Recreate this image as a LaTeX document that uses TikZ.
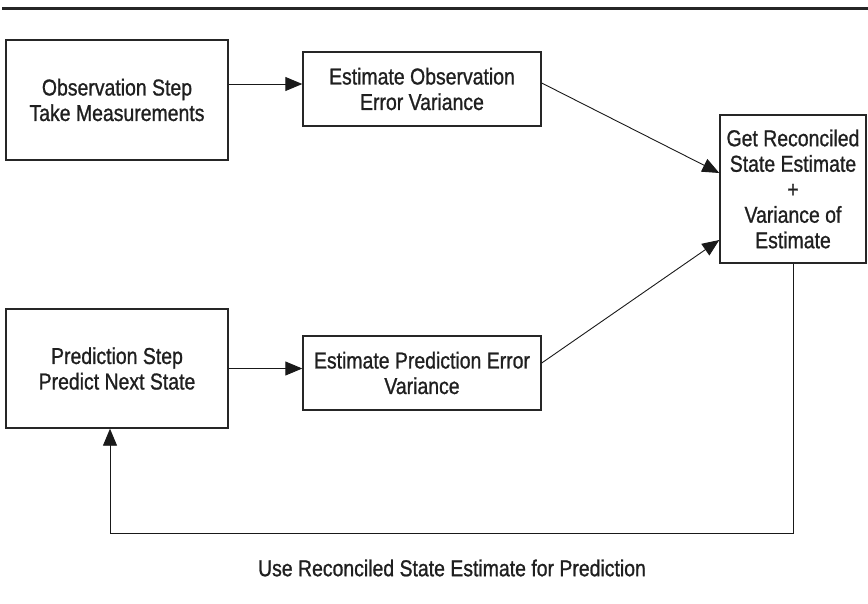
\documentclass[tikz,border=0pt]{standalone}
\usepackage{fontspec}
\setmainfont[FakeStretch=0.845,FakeBold=1.0]{Liberation Sans}
\usetikzlibrary{arrows.meta}
\begin{document}
\begin{tikzpicture}[x=1pt,y=-1pt,
  box/.style={draw=black!85, line width=1.4pt, align=center, inner sep=0pt, text=black!88, font=\fontsize{23}{25.5}\selectfont},
  arr/.style={draw=black!90, line width=0.9pt, -{Triangle[length=17pt,width=14pt]}},
  lbl/.style={text=black!88, font=\fontsize{23}{25.5}\selectfont}]
\useasboundingbox (0,0) rectangle (868,603);
\draw[line width=3pt, black!85] (2,8) -- (868,8);
\node[box, minimum width=222pt, minimum height=120pt] (obs) at (117,100) {Observation Step\\Take Measurements};
\node[box, minimum width=238pt, minimum height=74pt] (estobs) at (422,89) {Estimate Observation\\Error Variance};
\node[box, minimum width=146pt, minimum height=148pt] (rec) at (793,189) {Get Reconciled\\State Estimate\\+\\Variance of\\Estimate};
\node[box, minimum width=222pt, minimum height=119pt] (pred) at (117,368.5) {Prediction Step\\Predict Next State};
\node[box, minimum width=238pt, minimum height=74pt] (estpred) at (422,373) {Estimate Prediction Error\\Variance};
\node[lbl] (note) at (452,568) {Use Reconciled State Estimate for Prediction};
\draw[arr] ([yshift=16pt]obs.east) -- ([yshift=16pt]obs.east -| estobs.west);
\draw[arr] (pred.east) -- (pred.east -| estpred.west);
\draw[arr] ([yshift=6pt]estobs.east) -- ([yshift=16pt]rec.west);
\draw[arr] ([yshift=10pt]estpred.east) -- ([yshift=-51pt]rec.west);
\coordinate (fb) at (110,533);
\draw[arr] (rec.south) |- (fb) -- (fb |- pred.south);
\end{tikzpicture}
\end{document}
